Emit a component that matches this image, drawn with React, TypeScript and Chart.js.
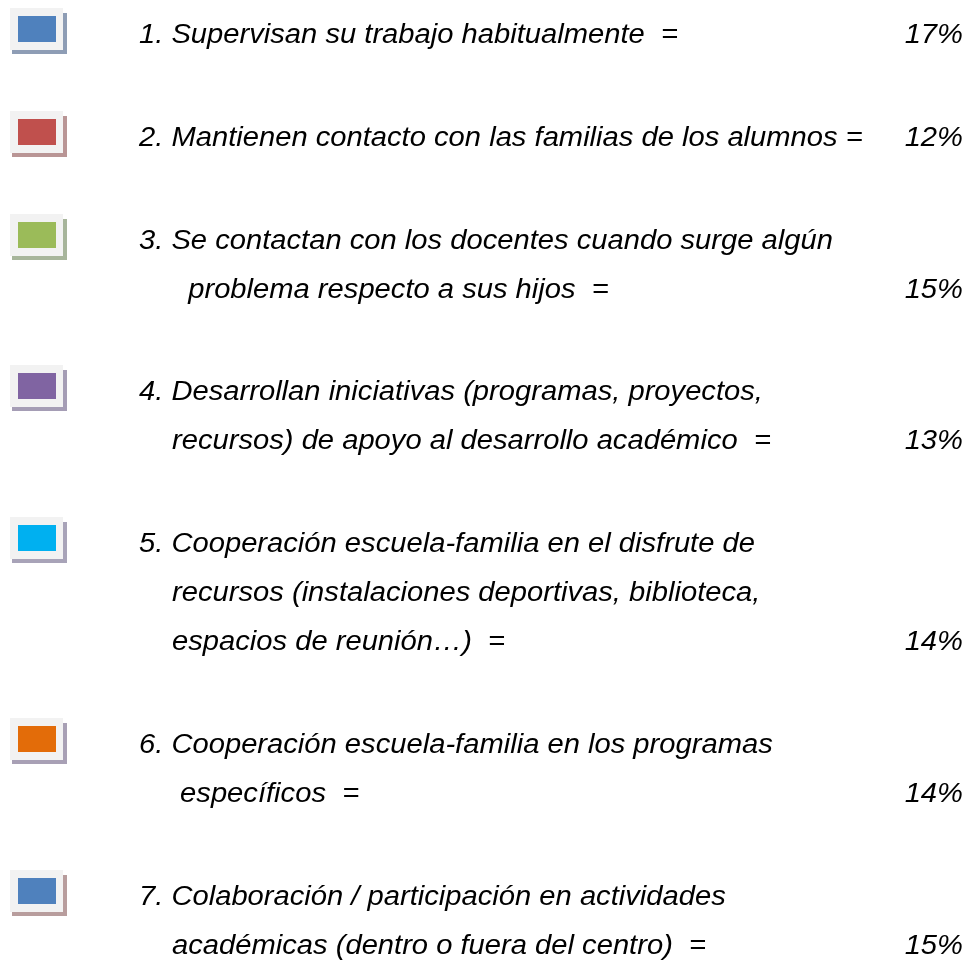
import { useEffect, useRef } from "react";
import { Chart, registerables } from "chart.js";

Chart.register(...registerables);

// ---- data ----
const categories: string[][] = [
  ["1. Supervisan su trabajo habitualmente  ="],
  ["2. Mantienen contacto con las familias de los alumnos ="],
  ["3. Se contactan con los docentes cuando surge algún", "  problema respecto a sus hijos  ="],
  ["4. Desarrollan iniciativas (programas, proyectos,", "recursos) de apoyo al desarrollo académico  ="],
  [
    "5. Cooperación escuela-familia en el disfrute de",
    "recursos (instalaciones deportivas, biblioteca,",
    "espacios de reunión…)  =",
  ],
  ["6. Cooperación escuela-familia en los programas", " específicos  ="],
  ["7. Colaboración / participación en actividades", "académicas (dentro o fuera del centro)  ="],
];
const values: number[] = [17, 12, 15, 13, 14, 14, 15];
const colors: string[] = ["#4f81bd", "#c0504d", "#9bbb59", "#8064a2", "#00b0f0", "#e36c09", "#4f81bd"];
const shadowColors: string[] = ["#8e9db5", "#b99595", "#a7b59b", "#a59db5", "#a8a3b8", "#a8a0b5", "#b89d9d"];

// ---- layout ----
const FONT = "italic 27px 'Liberation Sans', Arial, sans-serif";
const SX = 1.08;
const FIRST_BASELINE = 43;
const LINE_H = 49;
const ITEM_GAP = 102.8;
const TEXT_X = 139;
const CONT_X = 172;
const PCT_RIGHT = 963;

const legendPlugin = {
  id: "sideLegend",
  afterDraw(chart: any) {
    const ctx: CanvasRenderingContext2D = chart.ctx;
    const labels = chart.data.labels as string[][];
    const ds = chart.data.datasets[0];
    const vals = ds.data as number[];
    const bg = ds.backgroundColor as string[];
    const drawText = (t: string, x: number, y: number) => {
      ctx.save();
      ctx.translate(x, y);
      ctx.scale(SX, 1);
      ctx.fillText(t, 0, 0);
      ctx.restore();
    };
    ctx.save();
    ctx.font = FONT;
    ctx.textBaseline = "alphabetic";
    ctx.textAlign = "left";
    let baseline = FIRST_BASELINE;
    labels.forEach((lines, i) => {
      const top = Math.round(baseline - 35);
      ctx.fillStyle = shadowColors[i];
      ctx.fillRect(12, top + 5, 55, 41);
      ctx.fillStyle = "#f2f2f2";
      ctx.fillRect(10, top, 53, 42);
      ctx.fillStyle = bg[i];
      ctx.fillRect(18, top + 8, 38, 26);
      ctx.fillStyle = "#000000";
      lines.forEach((ln, j) => {
        const y = baseline + j * LINE_H;
        drawText(ln, j === 0 ? TEXT_X : CONT_X, y);
      });
      const lastY = baseline + (lines.length - 1) * LINE_H;
      const pct = `${vals[i]}%`;
      const w = ctx.measureText(pct).width * SX;
      drawText(pct, PCT_RIGHT - w, lastY);
      baseline = lastY + ITEM_GAP;
    });
    ctx.restore();
  },
};

export default function App() {
  const ref = useRef<HTMLCanvasElement | null>(null);
  useEffect(() => {
    if (!ref.current) return;
    const chart = new Chart(ref.current, {
      type: "pie",
      data: {
        labels: categories as any,
        datasets: [
          {
            data: values,
            backgroundColor: colors,
            borderWidth: 0,
          },
        ],
      },
      options: {
        animation: false,
        responsive: true,
        maintainAspectRatio: false,
        radius: 0,
        events: [],
        plugins: {
          legend: { display: false },
          tooltip: { enabled: false },
        },
      } as any,
      plugins: [legendPlugin],
    });
    return () => chart.destroy();
  }, []);
  return (
    <div style={{ position: "absolute", left: 0, top: 0, width: 980, height: 962, background: "#ffffff" }}>
      <canvas ref={ref} />
    </div>
  );
}
